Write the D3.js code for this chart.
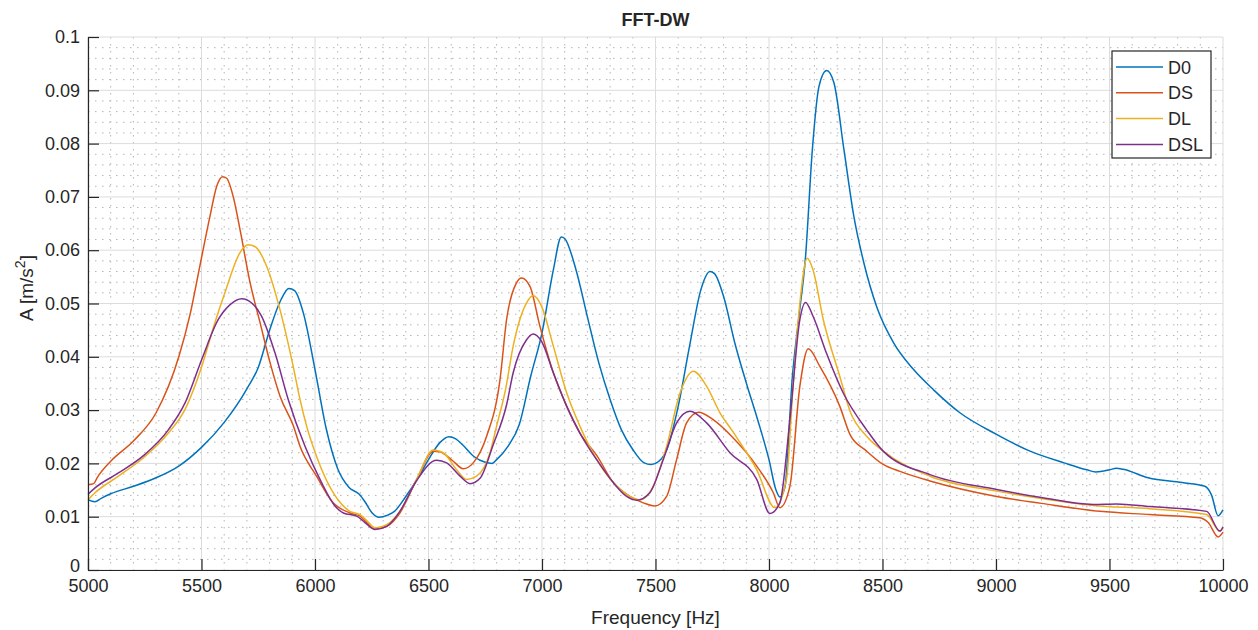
<!DOCTYPE html>
<html>
<head>
<meta charset="utf-8">
<script src="https://cdn.jsdelivr.net/npm/d3@7"></script>
<style>
  body { margin: 0; background: #fff; }
  text { font-family: "Liberation Sans", Arial, sans-serif; fill: #262626; }
</style>
</head>
<body>
<svg id="chart" width="1258" height="630"></svg>
<script>
// series data: [frequency Hz, amplitude m/s^2]
const d0 = [[5000,0.0132],[5030,0.0128],[5060,0.0135],[5100,0.0143],[5200,0.0157],[5300,0.0173],[5400,0.0195],
  [5500,0.023],[5600,0.0277],[5700,0.034],[5750,0.038],[5800,0.045],[5850,0.0507],[5885,0.0528],[5910,0.0524],
  [5950,0.048],[6000,0.0376],[6050,0.0264],[6100,0.019],[6150,0.0155],[6195,0.0142],[6220,0.0128],[6250,0.0108],
  [6283,0.0099],[6320,0.0103],[6350,0.011],[6400,0.0138],[6450,0.017],[6500,0.0207],[6550,0.0239],[6590,0.025],
  [6620,0.0246],[6650,0.0235],[6700,0.0213],[6750,0.0202],[6780,0.02],[6800,0.0207],[6850,0.0232],[6900,0.0273],
  [6950,0.0363],[7000,0.0445],[7050,0.0563],[7085,0.0625],[7100,0.0622],[7150,0.0563],[7200,0.0475],[7250,0.0389],
  [7300,0.032],[7350,0.0263],[7400,0.0226],[7450,0.0201],[7480,0.0198],[7500,0.02],[7550,0.0226],[7600,0.0307],
  [7650,0.042],[7700,0.0526],[7740,0.056],[7760,0.0556],[7800,0.0513],[7850,0.0425],[7900,0.0351],[7950,0.0282],
  [8000,0.0207],[8030,0.0151],[8048,0.0137],[8070,0.0155],[8103,0.0363],[8132,0.0476],[8161,0.0588],[8191,0.0789],
  [8220,0.0907],[8254,0.0937],[8286,0.0914],[8330,0.0789],[8374,0.0663],[8418,0.0576],[8476,0.0492],[8549,0.0426],
  [8637,0.0376],[8725,0.0338],[8841,0.0295],[9000,0.0255],[9150,0.0223],[9300,0.0201],[9400,0.0188],[9440,0.0184],
  [9500,0.0188],[9530,0.0191],[9560,0.0189],[9670,0.0173],[9820,0.0164],[9920,0.0157],[9950,0.014],[9978,0.0102],
  [10000,0.0113]];

const ds = [[5000,0.016],[5025,0.0162],[5040,0.0173],[5100,0.0204],[5200,0.0242],[5300,0.0295],[5400,0.04],
  [5450,0.048],[5494,0.0573],[5537,0.0663],[5567,0.072],[5593,0.0738],[5611,0.0735],[5640,0.07],[5670,0.0638],
  [5714,0.0539],[5758,0.0464],[5802,0.0389],[5846,0.0326],[5905,0.027],[5934,0.0232],[6007,0.0176],[6080,0.0126],
  [6154,0.0107],[6198,0.0101],[6230,0.0088],[6264,0.0077],[6316,0.0082],[6374,0.0107],[6448,0.017],[6521,0.0223],
  [6550,0.0222],[6609,0.0204],[6653,0.019],[6697,0.0201],[6756,0.0251],[6815,0.0357],[6844,0.047],[6888,0.0539],
  [6910,0.0548],[6947,0.0532],[6991,0.0457],[7050,0.037],[7109,0.0307],[7167,0.0257],[7241,0.0215],[7314,0.0164],
  [7387,0.0138],[7446,0.0126],[7497,0.012],[7549,0.0138],[7593,0.0207],[7637,0.0276],[7690,0.0296],[7754,0.0282],
  [7835,0.0251],[7946,0.0195],[8019,0.0145],[8048,0.0117],[8092,0.0157],[8136,0.0345],[8173,0.0415],[8224,0.0382],
  [8312,0.0307],[8357,0.0254],[8430,0.0223],[8503,0.0198],[8577,0.0185],[8709,0.0167],[9003,0.0138],[9200,0.0125],
  [9458,0.011],[9678,0.0104],[9898,0.0098],[9935,0.0089],[9979,0.0062],[10000,0.0071]];

const dl = [[5000,0.0132],[5031,0.0145],[5134,0.0176],[5251,0.0213],[5354,0.0257],[5427,0.0301],[5501,0.0382],
  [5559,0.0464],[5603,0.052],[5669,0.0595],[5706,0.061],[5735,0.0607],[5787,0.057],[5846,0.0488],[5904,0.0382],
  [5934,0.032],[5963,0.027],[6007,0.0213],[6080,0.0145],[6154,0.011],[6198,0.0104],[6230,0.0092],[6264,0.0079],
  [6316,0.0085],[6374,0.011],[6448,0.017],[6521,0.0225],[6565,0.022],[6624,0.0188],[6668,0.017],[6712,0.0176],
  [6771,0.022],[6800,0.027],[6840,0.034],[6873,0.042],[6932,0.0501],[6961,0.0515],[6998,0.0495],[7050,0.042],
  [7109,0.0332],[7167,0.027],[7241,0.0207],[7314,0.0164],[7387,0.0138],[7431,0.0132],[7490,0.0157],[7549,0.0232],
  [7608,0.0332],[7667,0.0373],[7725,0.0345],[7784,0.0295],[7840,0.026],[7946,0.0188],[8026,0.0117],[8077,0.017],
  [8106,0.0345],[8136,0.0501],[8168,0.0585],[8194,0.0563],[8239,0.047],[8312,0.0363],[8357,0.0298],[8430,0.0251],
  [8503,0.0223],[8709,0.0176],[9003,0.0148],[9200,0.0134],[9428,0.0121],[9678,0.0115],[9928,0.0104],[9986,0.0073],
  [10000,0.0079]];

const dsl = [[5000,0.0142],[5031,0.0154],[5134,0.0182],[5251,0.0217],[5354,0.0263],[5427,0.0313],[5501,0.0395],
  [5574,0.047],[5626,0.0498],[5677,0.0509],[5721,0.0501],[5765,0.0476],[5824,0.0407],[5882,0.032],[5956,0.0232],
  [6029,0.0164],[6088,0.012],[6125,0.0107],[6184,0.0101],[6220,0.0089],[6264,0.0076],[6316,0.0082],[6374,0.011],
  [6448,0.0168],[6536,0.0206],[6580,0.0201],[6639,0.0176],[6683,0.0162],[6727,0.0172],[6785,0.0235],[6844,0.031],
  [6873,0.037],[6932,0.0432],[6961,0.0443],[6998,0.0429],[7050,0.037],[7109,0.0307],[7167,0.0257],[7241,0.0207],
  [7314,0.0164],[7373,0.0138],[7417,0.0131],[7475,0.0145],[7534,0.0207],[7593,0.0276],[7652,0.0298],[7725,0.0276],
  [7828,0.022],[7946,0.017],[8004,0.0106],[8048,0.0126],[8092,0.0282],[8136,0.047],[8161,0.0502],[8194,0.0476],
  [8253,0.0407],[8327,0.0332],[8430,0.0263],[8503,0.0223],[8709,0.0179],[9003,0.0151],[9200,0.0136],[9428,0.0123],
  [9531,0.0124],[9678,0.0119],[9928,0.011],[9986,0.0073],[10000,0.0081]];

const seriesNames = ["D0", "DS", "DL", "DSL"];
const seriesData = [d0, ds, dl, dsl];
const colors = ["#0072BD", "#D95319", "#EDB120", "#7E2F8E"];

const xTicks = [5000, 5500, 6000, 6500, 7000, 7500, 8000, 8500, 9000, 9500, 10000];
const yTicks = [0, 0.01, 0.02, 0.03, 0.04, 0.05, 0.06, 0.07, 0.08, 0.09, 0.1];

const margin = { top: 37, right: 35, bottom: 60, left: 88 },
  width = 1258 - margin.left - margin.right,
  height = 630 - margin.top - margin.bottom;

const svg = d3.select("#chart");
const g = svg.append("g").attr("transform", "translate(" + margin.left + "," + margin.top + ")");

const x = d3.scaleLinear().domain([5000, 10000]).range([0, width]);
const y = d3.scaleLinear().domain([0, 0.1]).range([height, 0]);

// minor grid (dotted)
const xMinor = d3.range(5100, 10000, 100).filter(v => v % 500 !== 0);
const yMinor = d3.range(1, 50).map(i => i * 0.002).filter((v, i) => (i + 1) % 5 !== 0);

g.append("g").selectAll("line").data(xMinor).enter().append("line")
  .attr("x1", d => x(d)).attr("x2", d => x(d)).attr("y1", 0).attr("y2", height)
  .style("stroke", "#b4b4b4").style("stroke-width", 1).style("stroke-dasharray", "1.5,5.5");
g.append("g").selectAll("line").data(yMinor).enter().append("line")
  .attr("x1", 0).attr("x2", width).attr("y1", d => y(d)).attr("y2", d => y(d))
  .style("stroke", "#b4b4b4").style("stroke-width", 1).style("stroke-dasharray", "1.5,5.5");

// major grid
g.append("g").selectAll("line").data(xTicks).enter().append("line")
  .attr("x1", d => x(d)).attr("x2", d => x(d)).attr("y1", 0).attr("y2", height)
  .style("stroke", "#dcdcdc").style("stroke-width", 1);
g.append("g").selectAll("line").data(yTicks).enter().append("line")
  .attr("x1", 0).attr("x2", width).attr("y1", d => y(d)).attr("y2", d => y(d))
  .style("stroke", "#dcdcdc").style("stroke-width", 1);

// lines
const line = d3.line().x(d => x(d[0])).y(d => y(d[1])).curve(d3.curveMonotoneX);
seriesData.forEach((data, i) => {
  g.append("path")
    .datum(data)
    .attr("d", line)
    .style("fill", "none")
    .style("stroke", colors[i])
    .style("stroke-width", 1.5);
});

// axes (ticks pointing inward, MATLAB style)
const xAxis = g.append("g").attr("transform", "translate(0," + height + ")")
  .call(d3.axisBottom(x).tickValues(xTicks).tickSizeInner(-11).tickSizeOuter(0).tickPadding(9).tickFormat(d3.format("d")));
const yAxis = g.append("g")
  .call(d3.axisLeft(y).tickValues(yTicks).tickSizeInner(-11).tickSizeOuter(0).tickPadding(8).tickFormat(d => d === 0 ? "0" : String(+d.toFixed(2))));

[xAxis, yAxis].forEach(a => {
  a.select(".domain").style("stroke", "#262626").style("stroke-width", 1.2);
  a.selectAll(".tick line").style("stroke", "#262626").style("stroke-width", 1.2);
  a.selectAll(".tick text").style("font-family", "'Liberation Sans', Arial, sans-serif")
    .style("font-size", "18px").style("fill", "#262626");
});
// keep the "0" label clear of the "5000" label below it
yAxis.selectAll(".tick text").filter(d => d === 0).attr("dy", "0.08em");

// title and axis labels
svg.append("text")
  .attr("x", margin.left + width / 2).attr("y", 26)
  .attr("text-anchor", "middle")
  .style("font-size", "18px").style("font-weight", "bold")
  .text("FFT-DW");

svg.append("text")
  .attr("x", margin.left + width / 2).attr("y", 624)
  .attr("text-anchor", "middle")
  .style("font-size", "19px")
  .text("Frequency [Hz]");

const yl = svg.append("text")
  .attr("transform", "translate(33,288)rotate(-90)")
  .attr("text-anchor", "middle")
  .style("font-size", "19px");
yl.append("tspan").text("A [m/s");
yl.append("tspan").attr("dy", -8).style("font-size", "14px").text("2");
yl.append("tspan").attr("dy", 8).text("]");

// legend
const legend = svg.append("g").attr("transform", "translate(1112,51)");
legend.append("rect")
  .attr("width", 99).attr("height", 107)
  .style("fill", "#fff").style("stroke", "#262626").style("stroke-width", 1.2);
seriesNames.forEach((name, i) => {
  const ly = 16 + i * 25.8;
  legend.append("line")
    .attr("x1", 4).attr("x2", 51).attr("y1", ly).attr("y2", ly)
    .style("stroke", colors[i]).style("stroke-width", 1.5);
  legend.append("text")
    .attr("x", 56).attr("y", ly + 6.5)
    .style("font-size", "18px")
    .text(name);
});
</script>
</body>
</html>
